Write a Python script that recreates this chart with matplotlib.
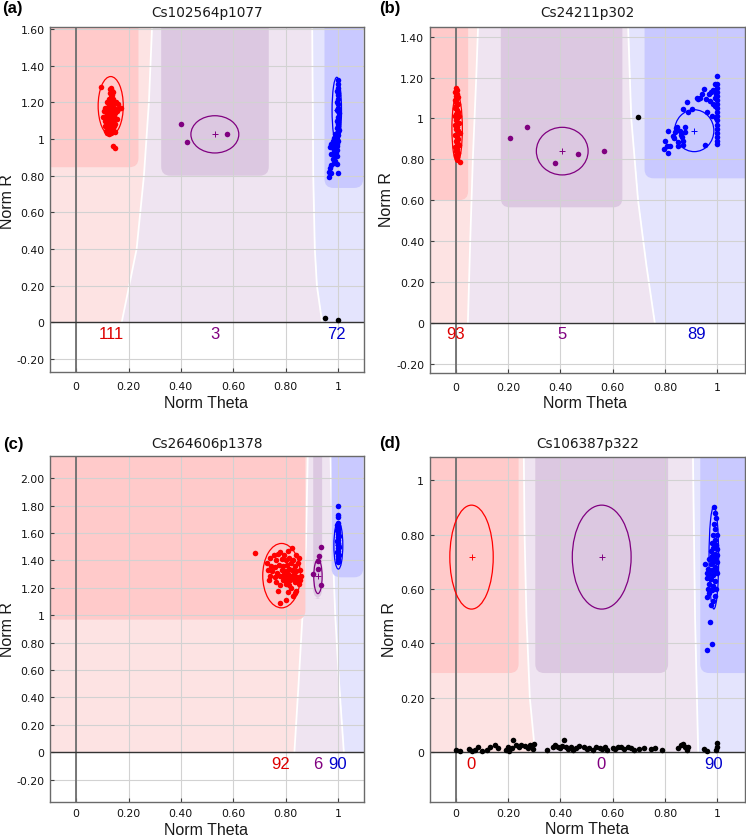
import numpy as np
import matplotlib
matplotlib.use("Agg")
import matplotlib.pyplot as plt
from matplotlib.patches import Ellipse, FancyBboxPatch, Polygon
from matplotlib.ticker import FuncFormatter

W, H = 746, 837

red = "#ff0000"
purple = "#800080"
blue = "#0000ff"
light_red = "#fde3e3"
light_purple = "#efe4f1"
light_blue = "#e4e4fd"
zone_red = "#ffcaca"
zone_purple = "#dcc8e1"
zone_blue = "#c9c9ff"
count_colors = ["#dd0000", "#800080", "#0000cc"]

x_ticks = [0, 0.2, 0.4, 0.6, 0.8, 1.0]

# ---------------- panel (a) ----------------
a_title = "Cs102564p1077"
a_xlim = (-0.1, 1.1)
a_ylim = (-0.27, 1.61)
a_yticks = [-0.2, 0, 0.2, 0.4, 0.6, 0.8, 1.0, 1.2, 1.4, 1.6]
a_left_bound = ([0, 0.4, 0.8, 1.2, 1.61], [0.174, 0.231, 0.259, 0.278, 0.29])
a_right_bound = ([0, 0.2, 0.4, 0.8, 1.61], [0.94, 0.92, 0.912, 0.906, 0.902])
a_zones = [(-0.2, 0.238, 0.846), (0.325, 0.736, 0.80), (0.949, 1.097, 0.733)]
a_ellipses = [(0.132, 1.18, 0.096, 0.32), (0.53, 1.025, 0.183, 0.203), (0.996, 1.156, 0.036, 0.36)]
a_counts = [111, 3, 72]
a_count_x = [0.133, 0.531, 0.996]
a_aa = [
    (0.095, 1.285), (0.128, 1.27), (0.132, 1.28), (0.138, 1.26), (0.130, 1.25), (0.136, 1.24), (0.142, 1.255),
    (0.125, 1.22), (0.133, 1.23), (0.140, 1.215), (0.118, 1.20), (0.126, 1.19), (0.134, 1.205), (0.145, 1.195),
    (0.152, 1.20), (0.160, 1.19), (0.112, 1.17), (0.120, 1.175), (0.128, 1.165), (0.136, 1.18), (0.144, 1.17),
    (0.150, 1.16), (0.158, 1.165), (0.170, 1.17), (0.108, 1.15), (0.116, 1.14), (0.124, 1.15), (0.132, 1.145),
    (0.140, 1.155), (0.148, 1.14), (0.156, 1.15), (0.104, 1.12), (0.114, 1.125), (0.122, 1.115), (0.130, 1.13),
    (0.138, 1.12), (0.146, 1.125), (0.155, 1.11), (0.110, 1.10), (0.118, 1.095), (0.126, 1.105), (0.134, 1.09),
    (0.142, 1.10), (0.150, 1.08), (0.112, 1.07), (0.120, 1.065), (0.128, 1.075), (0.136, 1.06), (0.144, 1.07),
    (0.115, 1.045), (0.124, 1.05), (0.132, 1.04), (0.140, 1.055), (0.148, 1.04), (0.118, 1.03), (0.127, 1.025),
    (0.135, 1.035), (0.110, 1.11), (0.122, 1.085), (0.138, 1.065), (0.140, 0.96), (0.148, 0.952),
]
a_ab = [(0.40, 1.083), (0.424, 0.984), (0.575, 1.029)]
a_bb = [
    (1.0, 1.32), (1.0, 1.30), (1.0, 1.28), (0.998, 1.26), (1.002, 1.24), (1.0, 1.22), (0.998, 1.20),
    (1.002, 1.19), (1.0, 1.17), (0.997, 1.16), (1.003, 1.14), (1.0, 1.12), (0.998, 1.10), (1.002, 1.09),
    (1.0, 1.07), (0.997, 1.06), (1.003, 1.05), (1.0, 1.04), (0.995, 1.03), (1.0, 1.02), (0.99, 1.01),
    (0.985, 1.005), (0.995, 1.0), (1.0, 0.99), (0.98, 0.99), (0.99, 0.98), (0.998, 0.975), (0.975, 0.97),
    (0.985, 0.965), (0.995, 0.96), (0.97, 0.955), (0.98, 0.95), (0.99, 0.945), (0.998, 0.94), (0.985, 0.93),
    (0.993, 0.925), (0.975, 0.92), (0.99, 0.91), (0.998, 0.905), (0.98, 0.89), (0.99, 0.88), (0.985, 0.87),
    (0.995, 0.865), (0.975, 0.86), (0.97, 0.84), (0.968, 0.82), (0.975, 0.815), (1.0, 0.815), (0.967, 0.795),
    (1.0, 1.25), (1.0, 1.15), (1.0, 1.11), (1.0, 1.08), (0.99, 1.025),
]
a_nc = [(0.95, 0.024), (1.0, 0.011)]

# ---------------- panel (b) ----------------
b_title = "Cs24211p302"
b_xlim = (-0.1, 1.105)
b_ylim = (-0.246, 1.449)
b_yticks = [-0.2, 0, 0.2, 0.4, 0.6, 0.8, 1.0, 1.2, 1.4]
b_left_bound = ([0, 0.4, 0.8, 1.2, 1.449], [0.046, 0.055, 0.065, 0.078, 0.085])
b_right_bound = ([0, 0.28, 0.6, 1.0, 1.449], [0.761, 0.729, 0.697, 0.671, 0.659])
b_zones = [(-0.2, 0.047, 0.60), (0.172, 0.637, 0.565), (0.722, 1.2, 0.707)]
b_ellipses = [(0.005, 0.95, 0.04, 0.33), (0.407, 0.84, 0.198, 0.233), (0.912, 0.94, 0.15, 0.205)]
b_counts = [93, 5, 89]
b_count_x = [0.0, 0.405, 0.92]
b_aa = [
    (0.0, 1.15), (0.003, 1.14), (-0.002, 1.13), (0.004, 1.12), (0.0, 1.11), (0.006, 1.10), (-0.003, 1.09),
    (0.002, 1.08), (0.008, 1.07), (0.0, 1.06), (-0.004, 1.05), (0.005, 1.04), (0.01, 1.03), (0.0, 1.02),
    (-0.003, 1.01), (0.006, 1.0), (0.002, 0.99), (0.012, 0.98), (-0.005, 0.97), (0.004, 0.96), (0.0, 0.95),
    (0.008, 0.94), (0.015, 0.93), (-0.002, 0.92), (0.005, 0.91), (0.01, 0.90), (0.0, 0.89), (0.004, 0.88),
    (0.012, 0.87), (-0.003, 0.86), (0.006, 0.85), (0.002, 0.84), (0.01, 0.83), (0.0, 0.82), (0.005, 0.81),
    (0.003, 0.80), (0.017, 0.785), (0.008, 1.105), (0.012, 1.01), (0.008, 0.875),
]
b_ab = [(0.206, 0.902), (0.273, 0.956), (0.378, 0.78), (0.467, 0.824), (0.567, 0.842)]
b_bb = [
    (1.0, 1.21), (1.0, 1.17), (1.0, 1.15), (1.0, 1.13), (1.0, 1.11), (1.0, 1.09), (1.0, 1.07), (1.0, 1.05),
    (1.0, 1.03), (1.0, 1.01), (1.0, 0.99), (1.0, 0.97), (1.0, 0.95), (1.0, 0.93), (1.0, 0.91), (1.0, 0.89),
    (1.0, 0.875), (0.995, 1.12), (0.995, 1.06), (0.995, 1.00),
    (0.95, 1.144), (0.969, 1.12), (0.933, 1.10), (0.885, 1.079), (0.889, 1.03), (0.868, 1.046), (0.842, 0.953),
    (0.813, 0.937), (0.857, 0.94), (0.876, 0.932), (0.864, 0.908), (0.835, 0.903), (0.80, 0.891), (0.806, 0.863),
    (0.819, 0.866), (0.797, 0.848), (0.813, 0.829), (0.849, 0.863), (0.868, 0.869), (0.953, 0.871), (0.96, 1.03),
    (0.98, 1.01), (0.992, 1.06), (0.985, 1.14), (0.992, 1.17), (0.973, 1.087), (0.923, 1.098), (0.837, 0.935),
    (0.846, 0.956), (0.875, 0.956), (0.904, 1.046), (0.926, 1.095), (0.958, 1.095), (0.983, 1.07), (0.94, 1.12),
    (0.975, 1.13), (0.99, 1.10), (0.86, 0.92), (0.87, 0.89), (0.85, 0.885), (0.83, 0.915),
]
b_nc = [(0.698, 1.005)]

# ---------------- panel (c) ----------------
c_title = "Cs264606p1378"
c_xlim = (-0.1, 1.1)
c_ylim = (-0.365, 2.16)
c_yticks = [-0.2, 0, 0.2, 0.4, 0.6, 0.8, 1.0, 1.2, 1.4, 1.6, 1.8, 2.0]
c_left_bound = ([0, 0.5, 1.0, 1.5, 2.16], [0.834, 0.85, 0.865, 0.878, 0.885])
c_right_bound = ([0, 0.5, 1.0, 1.5, 2.16], [1.023, 1.005, 0.99, 0.98, 0.972])
c_zones = [(-0.2, 0.876, 0.968), (0.906, 0.94, 1.12), (0.976, 1.097, 1.277)]
c_ellipses = [(0.785, 1.289, 0.144, 0.47), (0.924, 1.283, 0.032, 0.25), (1.002, 1.51, 0.034, 0.346)]
c_counts = [92, 6, 90]
c_count_x = [0.783, 0.925, 1.0]
c_aa = [
    (0.683, 1.451), (0.73, 1.38), (0.74, 1.42), (0.755, 1.44), (0.77, 1.45), (0.78, 1.46), (0.795, 1.44),
    (0.81, 1.47), (0.825, 1.49), (0.84, 1.44), (0.85, 1.42), (0.765, 1.40), (0.785, 1.41), (0.80, 1.40),
    (0.815, 1.42), (0.83, 1.40), (0.745, 1.36), (0.76, 1.35), (0.775, 1.37), (0.79, 1.36), (0.805, 1.37),
    (0.82, 1.38), (0.835, 1.36), (0.848, 1.38), (0.735, 1.33), (0.75, 1.32), (0.768, 1.31), (0.785, 1.33),
    (0.80, 1.32), (0.812, 1.34), (0.825, 1.33), (0.84, 1.32), (0.855, 1.33), (0.742, 1.29), (0.76, 1.28),
    (0.778, 1.29), (0.795, 1.28), (0.808, 1.30), (0.82, 1.29), (0.832, 1.30), (0.845, 1.28), (0.858, 1.29),
    (0.79, 1.26), (0.805, 1.25), (0.818, 1.26), (0.83, 1.27), (0.843, 1.25), (0.855, 1.26), (0.738, 1.26),
    (0.80, 1.23), (0.815, 1.22), (0.835, 1.24), (0.85, 1.23), (0.78, 1.22), (0.82, 1.20), (0.84, 1.18),
    (0.835, 1.16), (0.83, 1.14), (0.81, 1.17), (0.77, 1.18), (0.765, 1.24), (0.795, 1.30), (0.81, 1.27),
    (0.825, 1.28), (0.78, 1.09), (0.80, 1.11),
]
c_ab = [(0.937, 1.498), (0.927, 1.432), (0.923, 1.398), (0.923, 1.337), (0.904, 1.302), (0.936, 1.22)]
c_bb = [
    (1.0, 1.80), (1.0, 1.73), (1.0, 1.72), (1.0, 1.67), (1.0, 1.65), (1.0, 1.63), (1.0, 1.61), (1.0, 1.59),
    (1.0, 1.57), (1.0, 1.55), (1.0, 1.53), (1.0, 1.51), (1.0, 1.49), (1.0, 1.47), (1.0, 1.45), (1.0, 1.43),
    (1.0, 1.41), (1.0, 1.39), (0.997, 1.62), (1.003, 1.58), (0.997, 1.54), (1.003, 1.50), (0.997, 1.46),
    (1.003, 1.44), (0.998, 1.66), (1.002, 1.52),
]
c_nc = []

# ---------------- panel (d) ----------------
d_title = "Cs106387p322"
d_xlim = (-0.1, 1.105)
d_ylim = (-0.184, 1.086)
d_yticks = [0, 0.2, 0.4, 0.6, 0.8, 1.0]
d_left_bound = ([0, 0.1, 0.2, 0.5, 0.8, 1.086], [0.303, 0.293, 0.283, 0.27, 0.263, 0.26])
d_right_bound = ([0, 0.5, 1.086], [0.927, 0.915, 0.907])
d_zones = [(-0.2, 0.24, 0.291), (0.304, 0.812, 0.291), (0.935, 1.2, 0.291)]
d_ellipses = [(0.06, 0.717, 0.166, 0.382), (0.558, 0.717, 0.225, 0.382), (0.987, 0.715, 0.037, 0.377)]
d_counts = [0, 0, 90]
d_count_x = [0.057, 0.557, 0.987]
d_aa = []
d_ab = []
d_bb = [
    (0.986, 0.90), (0.99, 0.88), (0.995, 0.86), (0.988, 0.84), (0.993, 0.82), (0.985, 0.80), (0.998, 0.80),
    (0.99, 0.78), (0.98, 0.77), (0.995, 0.76), (0.985, 0.75), (0.975, 0.74), (1.0, 0.745), (0.99, 0.73),
    (0.98, 0.72), (0.995, 0.72), (0.97, 0.71), (0.985, 0.70), (1.0, 0.70), (0.955, 0.69), (0.975, 0.69),
    (0.99, 0.68), (0.965, 0.675), (0.98, 0.67), (0.995, 0.665), (0.97, 0.655), (0.985, 0.65), (1.0, 0.66),
    (0.96, 0.64), (0.975, 0.635), (0.99, 0.63), (0.97, 0.62), (0.985, 0.61), (0.965, 0.60), (0.98, 0.595),
    (0.995, 0.60), (0.97, 0.585), (0.99, 0.575), (0.96, 0.57), (0.985, 0.555), (0.975, 0.54), (0.971, 0.477),
    (0.981, 0.398), (0.962, 0.376), (0.99, 0.71), (0.975, 0.715), (1.0, 0.725), (0.96, 0.66),
]
d_nc = [
    (0.0, 0.01), (0.015, 0.005), (0.05, 0.012), (0.06, 0.005), (0.075, 0.008), (0.085, 0.018), (0.10, 0.003),
    (0.12, 0.008), (0.13, 0.02), (0.15, 0.025), (0.16, 0.015), (0.19, 0.01), (0.20, 0.02), (0.205, 0.005),
    (0.215, 0.015), (0.218, 0.045), (0.23, 0.025), (0.24, 0.02), (0.25, 0.028), (0.265, 0.022), (0.275, 0.015),
    (0.285, 0.025), (0.295, 0.012), (0.30, 0.03), (0.35, 0.01), (0.37, 0.018), (0.38, 0.025), (0.39, 0.02),
    (0.40, 0.015), (0.405, 0.022), (0.414, 0.046), (0.42, 0.018), (0.43, 0.012), (0.44, 0.02), (0.45, 0.01),
    (0.46, 0.015), (0.47, 0.022), (0.49, 0.018), (0.50, 0.012), (0.51, 0.015), (0.525, 0.01), (0.535, 0.018),
    (0.55, 0.015), (0.56, 0.012), (0.57, 0.018), (0.58, 0.008), (0.60, 0.015), (0.61, 0.012), (0.62, 0.02),
    (0.63, 0.018), (0.645, 0.012), (0.66, 0.02), (0.67, 0.015), (0.68, 0.008), (0.70, 0.012), (0.72, 0.015),
    (0.745, 0.012), (0.76, 0.015), (0.79, 0.01), (0.85, 0.015), (0.86, 0.025), (0.87, 0.03), (0.875, 0.018),
    (0.885, 0.01), (0.89, 0.02), (0.95, 0.012), (0.96, 0.005), (0.995, 0.01), (1.0, 0.02), (1.0, 0.035),
]


def tick_fmt(v, pos):
    if abs(v) < 1e-9:
        return "0"
    if abs(v - 1) < 1e-9:
        return "1"
    return f"{v:.2f}"


def px(x, y):
    return x / W, 1 - y / H


def draw_panel(ax, title, xlim, ylim, yticks, left_b, right_b, zones, ellipses,
               counts, count_x, groups, nc, title_pad, xpad):
    x0, x1 = xlim
    y0, y1 = ylim
    ax.set_xlim(x0, x1)
    ax.set_ylim(y0, y1)

    # background call regions
    ly, lx = left_b
    ry, rx = right_b
    ax.fill_betweenx(ly, x0 - 0.1, lx, color=light_red, lw=0, zorder=0.1)
    ax.fill_betweenx(ry, rx, x1 + 0.1, color=light_blue, lw=0, zorder=0.1)
    verts = list(zip(lx, ly)) + list(zip(rx[::-1], ry[::-1]))
    ax.add_patch(Polygon(verts, closed=True, fc=light_purple, ec="none", zorder=0.1))
    ax.plot(lx, ly, color="white", lw=1.3, zorder=0.2)
    ax.plot(rx, ry, color="white", lw=1.3, zorder=0.2)

    # darker cluster zones with rounded corners
    bb = ax.get_position()
    w_px, h_px = bb.width * W, bb.height * H
    aspect = ((y1 - y0) / h_px) / ((x1 - x0) / w_px)
    r = 9 * (x1 - x0) / w_px
    for (zx0, zx1, zy0), c in zip(zones, [zone_red, zone_purple, zone_blue]):
        ax.add_patch(FancyBboxPatch((zx0, zy0), zx1 - zx0, (y1 + 1) - zy0,
                                    boxstyle=f"round,pad=0,rounding_size={r}",
                                    mutation_aspect=aspect, fc=c, ec="none", zorder=0.3))

    ax.set_xticks(x_ticks)
    ax.set_yticks(yticks)
    ax.xaxis.set_major_formatter(FuncFormatter(tick_fmt))
    ax.yaxis.set_major_formatter(FuncFormatter(tick_fmt))
    ax.set_axisbelow(True)
    ax.grid(True, color="#d2d2d2", lw=0.8)
    ax.tick_params(direction="in", length=3, width=0.8, color="#404040",
                   labelsize=7.8, labelcolor="#111111")
    ax.tick_params(axis="x", pad=xpad)
    ax.tick_params(axis="y", pad=4.0)
    for s in ax.spines.values():
        s.set_color("#6a6a6a")
        s.set_linewidth(1.0)

    ax.axvline(0, color="#6e6e6e", lw=1.3, zorder=1)
    ax.axhline(0, color="#333333", lw=1.0, zorder=1)

    cols = [red, purple, blue]
    for (cx, cy, ew, eh), c in zip(ellipses, cols):
        ax.add_patch(Ellipse((cx, cy), ew, eh, fill=False, ec=c, lw=0.9, zorder=2))
        ax.plot(cx, cy, marker="+", ms=4, mew=0.7, color=c, zorder=2)

    for pts, c in zip(groups, cols):
        if pts:
            arr = np.array(pts)
            ax.scatter(arr[:, 0], arr[:, 1], s=16, c=c, lw=0, zorder=3)
    if nc:
        arr = np.array(nc)
        ax.scatter(arr[:, 0], arr[:, 1], s=16, c="black", lw=0, zorder=3)

    for n, cx, c in zip(counts, count_x, count_colors):
        ax.annotate(str(n), (cx, 0), xytext=(0, -8), textcoords="offset points",
                    ha="center", va="center", color=c, fontsize=12,
                    family="Liberation Sans", zorder=4)

    ax.set_title(title, fontsize=9.8, pad=title_pad, color="#1a1a1a")


fig = plt.figure(figsize=(W / 100, H / 100), dpi=100)

ax_a = fig.add_axes([50 / W, 1 - 373 / H, 314 / W, 345 / H])
ax_b = fig.add_axes([429.7 / W, 1 - 374 / H, 315 / W, 346.3 / H])
ax_c = fig.add_axes([50 / W, 1 - 803.3 / H, 314 / W, 346 / H])
ax_d = fig.add_axes([429.7 / W, 1 - 803.3 / H, 315 / W, 345.6 / H])

draw_panel(ax_a, a_title, a_xlim, a_ylim, a_yticks, a_left_bound, a_right_bound, a_zones,
           a_ellipses, a_counts, a_count_x, [a_aa, a_ab, a_bb], a_nc, 8, 6.5)
draw_panel(ax_b, b_title, b_xlim, b_ylim, b_yticks, b_left_bound, b_right_bound, b_zones,
           b_ellipses, b_counts, b_count_x, [b_aa, b_ab, b_bb], b_nc, 8, 6.5)
draw_panel(ax_c, c_title, c_xlim, c_ylim, c_yticks, c_left_bound, c_right_bound, c_zones,
           c_ellipses, c_counts, c_count_x, [c_aa, c_ab, c_bb], c_nc, 6.5, 4)
draw_panel(ax_d, d_title, d_xlim, d_ylim, d_yticks, d_left_bound, d_right_bound, d_zones,
           d_ellipses, d_counts, d_count_x, [d_aa, d_ab, d_bb], d_nc, 6.8, 4)

# panel letters and axis labels
for letter, (x, y) in zip(["(a)", "(b)", "(c)", "(d)"],
                          [(12.5, 9), (390, 9), (13, 445), (390, 444)]):
    fig.text(*px(x, y), letter, ha="center", va="center", fontsize=12,
             fontweight="bold", family="Liberation Sans")

for (x, y) in [(206, 404), (585, 404), (206, 830.5), (587, 830)]:
    fig.text(*px(x, y), "Norm Theta", ha="center", va="center", fontsize=11.5,
             family="Liberation Sans", color="#1a1a1a")

for (x, y) in [(7.5, 202), (386.8, 200), (7.2, 630), (389.7, 630)]:
    fig.text(*px(x, y), "Norm R", ha="center", va="center", rotation=90, fontsize=11.5,
             family="Liberation Sans", color="#1a1a1a")

fig.savefig("out.png", dpi=100)
